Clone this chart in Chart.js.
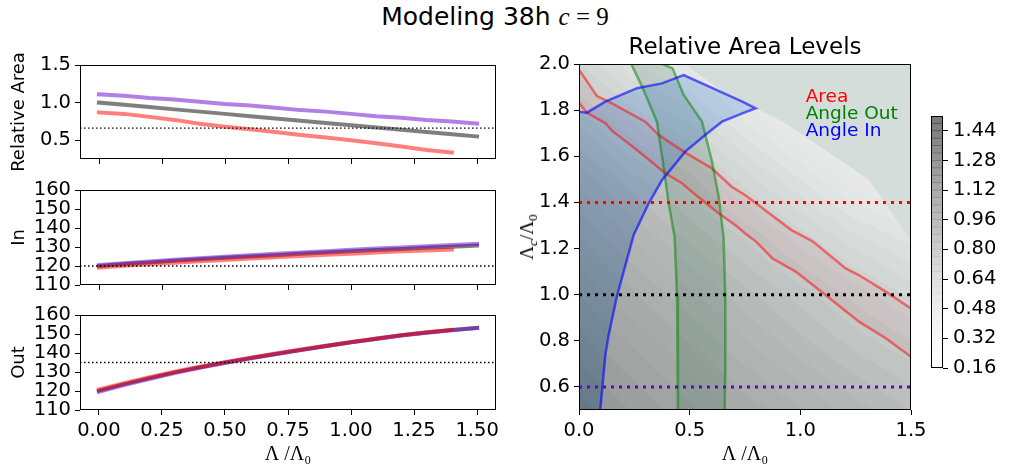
<!DOCTYPE html>
<html>
<head>
<meta charset="utf-8">
<script src="https://cdn.jsdelivr.net/npm/chart.js@4.4.1/dist/chart.umd.min.js"></script>
<style>
  body { margin: 0; background: #fff; }
  #fig { position: relative; width: 1014px; height: 471px; overflow: hidden; font-family: "DejaVu Sans"; }
  #fig canvas { position: absolute; }
  .txt { position: absolute; white-space: nowrap; color: #000; }
  .serif { font-family: "Liberation Serif"; }
  sub { font-size: 70%; vertical-align: -0.3em; line-height: 0; }
</style>
</head>
<body>
<div id="fig">
  <canvas id="cArea"></canvas>
  <canvas id="cIn"></canvas>
  <canvas id="cOut"></canvas>
  <canvas id="cMap"></canvas>
  <canvas id="cBar"></canvas>
  <div class="txt" style="left:0;width:990px;text-align:center;top:4px;font-size:25px;line-height:25px;">Modeling 38h <span class="serif"><i>c</i> = 9</span></div>
  <div class="txt" style="left:545px;width:400px;text-align:center;top:35px;font-size:23px;line-height:23px;">Relative Area Levels</div>
  <div class="txt serif" style="left:527px;top:237px;font-size:19px;transform:translate(-50%,-50%) rotate(-90deg);">Λ<sub><i>c</i></sub>/Λ<sub>0</sub></div>
</div>
<script>
// left panels: x = Lambda / Lambda0
const lam = [0, 0.1, 0.2, 0.3, 0.4, 0.5, 0.6, 0.7, 0.8, 0.9, 1.0, 1.1, 1.2, 1.3, 1.4, 1.5];
const lamRed = [0, 0.1, 0.2, 0.3, 0.4, 0.5, 0.6, 0.7, 0.8, 0.9, 1.0, 1.1, 1.2, 1.3, 1.4];

const areaGrey = [1.00, 0.97, 0.94, 0.91, 0.88, 0.85, 0.82, 0.79, 0.76, 0.73, 0.70, 0.67, 0.64, 0.61, 0.58, 0.55];
const areaPurple = [1.11, 1.09, 1.06, 1.04, 1.01, 0.98, 0.96, 0.93, 0.90, 0.88, 0.85, 0.82, 0.80, 0.77, 0.75, 0.72];
const areaRed = [0.87, 0.85, 0.81, 0.77, 0.72, 0.68, 0.645, 0.61, 0.57, 0.535, 0.50, 0.46, 0.415, 0.37, 0.335];

const inGrey = [120.0, 121.0, 121.9, 122.7, 123.5, 124.3, 125.0, 125.7, 126.4, 127.1, 127.7, 128.4, 129.0, 129.6, 130.1, 130.7];
const inPurple = [120.5, 121.5, 122.4, 123.3, 124.1, 124.9, 125.7, 126.4, 127.1, 127.8, 128.5, 129.2, 129.8, 130.4, 131.0, 131.6];
const inRed = [119.2, 120.1, 120.9, 121.7, 122.5, 123.2, 123.9, 124.6, 125.3, 125.9, 126.5, 127.1, 127.7, 128.2, 128.6];

const outGrey = [120.2, 123.6, 126.8, 129.8, 132.5, 135.0, 137.3, 139.5, 141.6, 143.7, 145.7, 147.5, 149.3, 150.8, 152.1, 153.2];
const outPurple = [119.6, 123.1, 126.3, 129.4, 132.2, 134.7, 137.1, 139.3, 141.5, 143.6, 145.6, 147.4, 149.2, 150.7, 152.0, 153.2];
const outRed = [120.8, 124.1, 127.2, 130.1, 132.8, 135.2, 137.5, 139.7, 141.8, 143.8, 145.8, 147.6, 149.4, 150.9, 152.2];

const refArea = 0.66, refIn = 120, refOut = 135;

const lamTicks = [0, 0.25, 0.5, 0.75, 1.0, 1.25, 1.5];
const areaTicks = [0.5, 1.0, 1.5];
const angleTicks = [110, 120, 130, 140, 150, 160];

// right panel: relative area field on (Lambda, Lambda_c)
const gridX = [0, 0.25, 0.5, 0.75, 1.0, 1.25, 1.5];
const gridY = [0.5, 0.75, 1.0, 1.25, 1.5, 1.75, 2.0];
const gridArea = [
  [1.14, 1.075, 1.01, 0.945, 0.885, 0.82, 0.76],
  [1.07, 1.005, 0.935, 0.86, 0.79, 0.72, 0.665],
  [1.00, 0.925, 0.85, 0.775, 0.70, 0.625, 0.55],
  [0.92, 0.835, 0.75, 0.675, 0.58, 0.49, 0.42],
  [0.83, 0.73, 0.655, 0.54, 0.44, 0.33, 0.28],
  [0.71, 0.595, 0.515, 0.40, 0.30, 0.22, 0.18],
  [0.56, 0.44, 0.37, 0.28, 0.20, 0.16, 0.16]
];
const noData = [[0.48, 2.0], [0.65, 1.88], [0.798, 1.808], [0.934, 1.743], [1.31, 1.497], [1.49, 1.25], [1.5, 1.235], [1.5, 2.0]];

const areaHi = [[0, 1.832], [0.036, 1.789], [0.119, 1.743], [0.149, 1.711], [0.262, 1.627], [0.39, 1.526], [0.465, 1.483], [0.518, 1.44], [0.631, 1.353], [0.706, 1.302], [0.75, 1.266], [0.80, 1.23], [0.873, 1.158], [0.979, 1.10], [1.114, 0.999], [1.265, 0.883], [1.386, 0.811], [1.5, 0.731]];
const areaLo = [[0, 1.975], [0.081, 1.861], [0.134, 1.837], [0.30, 1.75], [0.36, 1.692], [0.48, 1.616], [0.60, 1.548], [0.69, 1.468], [0.75, 1.432], [0.80, 1.396], [0.85, 1.36], [0.96, 1.28], [1.054, 1.232], [1.205, 1.114], [1.264, 1.085], [1.386, 1.013], [1.5, 0.94]];
const outLo = [[0.236, 2.0], [0.285, 1.902], [0.352, 1.75], [0.382, 1.555], [0.405, 1.396], [0.432, 1.25], [0.443, 0.996], [0.447, 0.679], [0.447, 0.5]];
const outHi = [[0.378, 2.0], [0.423, 1.981], [0.473, 1.866], [0.556, 1.75], [0.601, 1.577], [0.631, 1.425], [0.653, 1.25], [0.661, 0.996], [0.661, 0.679], [0.658, 0.5]];
const inEdge = [[0.096, 0.5], [0.119, 0.738], [0.134, 0.825], [0.172, 0.996], [0.247, 1.259], [0.315, 1.396], [0.375, 1.497], [0.40, 1.526], [0.48, 1.62], [0.57, 1.692], [0.646, 1.75], [0.738, 1.786], [0.798, 1.808], [0.738, 1.837], [0.473, 1.952], [0.375, 1.916], [0.262, 1.895], [0.119, 1.837], [0.036, 1.789], [0, 1.793]];
const inCorner = [[0, 0.5]];

const cutRows = [1.4, 1.0, 0.6];
const mapXTicks = [0, 0.5, 1.0, 1.5];
const mapYTicks = [0.6, 0.8, 1.0, 1.2, 1.4, 1.6, 1.8, 2.0];

const levels = [0.16, 0.20, 0.24, 0.28, 0.32, 0.36, 0.40, 0.44, 0.48, 0.52, 0.56, 0.60, 0.64, 0.68, 0.72, 0.76, 0.80, 0.84, 0.88, 0.92, 0.96, 1.00, 1.04, 1.08, 1.12, 1.16, 1.20, 1.24, 1.28, 1.32, 1.36, 1.40, 1.44, 1.48, 1.52];
const cbTicks = [0.16, 0.32, 0.48, 0.64, 0.80, 0.96, 1.12, 1.28, 1.44];

const mapLabels = ['Area', 'Angle Out', 'Angle In'];

// styles
const tickFont = { family: 'DejaVu Sans', size: 19.5 };
const labelFont = { family: 'DejaVu Sans', size: 18 };
const serifFont = { family: 'Liberation Serif', size: 20 };
const cGrey = 'rgba(0,0,0,0.5)', cPurple = 'rgba(102,0,204,0.5)', cRed = 'rgba(255,0,0,0.5)';
const greys = [255, 240, 217, 189, 150, 115, 82, 37, 0];
const fieldRamp = [[0.16, [240, 243, 242]], [0.4, [226, 230, 228]], [0.6, [204, 208, 206]], [0.8, [180, 184, 182]], [1.0, [162, 166, 164]], [1.2, [138, 142, 141]], [1.52, [112, 116, 115]]];

function place(id, l, t, w, h) {
  const c = document.getElementById(id);
  c.width = w; c.height = h;
  c.style.left = l + 'px'; c.style.top = t + 'px';
  return c;
}

const framePlugin = {
  id: 'frame',
  afterDraw(chart) {
    const { ctx, chartArea: a } = chart;
    ctx.save();
    ctx.strokeStyle = '#000';
    ctx.lineWidth = 1;
    ctx.strokeRect(Math.round(a.left) + 0.5, Math.round(a.top) + 0.5, Math.round(a.right - a.left) - 1, Math.round(a.bottom - a.top) - 1);
    ctx.restore();
  }
};

// tick marks only, for the panels whose x labels are shared with the bottom one
const xMarksPlugin = {
  id: 'xmarks',
  afterDraw(chart) {
    const { ctx, chartArea: a, scales } = chart;
    ctx.save();
    ctx.strokeStyle = '#000';
    ctx.lineWidth = 1;
    lamTicks.forEach(v => {
      const px = Math.round(scales.x.getPixelForValue(v)) + 0.5;
      ctx.beginPath();
      ctx.moveTo(px, a.bottom);
      ctx.lineTo(px, a.bottom + 5);
      ctx.stroke();
    });
    ctx.restore();
  }
};

function pts(xs, ys) { return ys.map((y, i) => ({ x: xs[i], y: y })); }
function pairs(arr) { return arr.map(p => ({ x: p[0], y: p[1] })); }

function line(data, color, width, extra) {
  return Object.assign({ data: data, showLine: true, borderColor: color, borderWidth: width, pointRadius: 0, fill: false, borderCapStyle: 'square' }, extra || {});
}

// y tick labels make chart.js reserve ~16px above and below the plot, so pads stay >= 18
function sidePanel(id, top, areaH, padTop, showX, yMin, yMax, yTicks, yFmt, yTitle, series, ref) {
  const xh = showX ? 61 : 18;
  const canvas = place(id, 0, top - padTop, 530, padTop + areaH + xh);
  const datasets = [
    line(pts(lam, series[0]), cGrey, 4),
    line(pts(lam, series[1]), cPurple, 4),
    line(pts(lamRed, series[2]), cRed, 4),
    line([{ x: -0.075, y: ref }, { x: 1.575, y: ref }], '#000', 1.4, { borderDash: [1.5, 2.5], borderCapStyle: 'butt' })
  ];
  datasets.forEach((d, i) => { d.order = datasets.length - i; });
  const xScale = {
    min: -0.075, max: 1.575,
    afterBuildTicks: s => { s.ticks = lamTicks.map(v => ({ value: v })); }
  };
  if (showX) {
    Object.assign(xScale, {
      afterFit: s => { s.height = xh; },
      ticks: { font: tickFont, color: '#000', padding: 4, maxRotation: 0, autoSkip: false, callback: v => v.toFixed(2) },
      grid: { drawOnChartArea: false, tickLength: 5, tickColor: '#000' },
      border: { display: false },
      title: { display: true, text: 'Λ /Λ₀', font: serifFont, color: '#000', padding: { top: 0, bottom: 4 } }
    });
  } else {
    xScale.display = false;
  }
  return new Chart(canvas, {
    type: 'scatter',
    data: { datasets: datasets },
    options: {
      responsive: false, animation: false,
      layout: { autoPadding: false, padding: { top: padTop, right: 34, left: 0, bottom: showX ? 0 : xh } },
      plugins: { legend: { display: false }, tooltip: { enabled: false } },
      scales: {
        x: xScale,
        y: {
          min: yMin, max: yMax,
          afterBuildTicks: s => { s.ticks = yTicks.map(v => ({ value: v })); },
          afterFit: s => { s.width = 80; },
          ticks: { font: tickFont, color: '#000', padding: 4, autoSkip: false, callback: yFmt },
          grid: { drawOnChartArea: false, tickLength: 5, tickColor: '#000' },
          border: { display: false },
          title: { display: true, text: yTitle, font: labelFont, color: '#000', padding: { top: 9, bottom: 0 } }
        }
      }
    },
    plugins: showX ? [framePlugin] : [framePlugin, xMarksPlugin]
  });
}

sidePanel('cArea', 65, 94, 26, false, 0.25, 1.5, areaTicks, v => v.toFixed(1), 'Relative Area', [areaGrey, areaPurple, areaRed], refArea);
sidePanel('cIn', 190, 95, 18, false, 110, 160, angleTicks, v => String(v), 'In', [inGrey, inPurple, inRed], refIn);
sidePanel('cOut', 315, 95, 18, true, 110, 160, angleTicks, v => String(v), 'Out', [outGrey, outPurple, outRed], refOut);

// field drawing
function sampleField(vx, vy) {
  let i = 0, j = 0;
  while (i < gridX.length - 2 && vx > gridX[i + 1]) i++;
  while (j < gridY.length - 2 && vy > gridY[j + 1]) j++;
  const fx = Math.min(1, Math.max(0, (vx - gridX[i]) / (gridX[i + 1] - gridX[i])));
  const fy = Math.min(1, Math.max(0, (vy - gridY[j]) / (gridY[j + 1] - gridY[j])));
  const a = gridArea[j][i], b = gridArea[j][i + 1], c = gridArea[j + 1][i], d = gridArea[j + 1][i + 1];
  return (a * (1 - fx) + b * fx) * (1 - fy) + (c * (1 - fx) + d * fx) * fy;
}
function rampColor(v) {
  if (v <= fieldRamp[0][0]) return fieldRamp[0][1];
  for (let k = 1; k < fieldRamp.length; k++) {
    if (v <= fieldRamp[k][0]) {
      const f = (v - fieldRamp[k - 1][0]) / (fieldRamp[k][0] - fieldRamp[k - 1][0]);
      return fieldRamp[k][1].map((c, n) => c * f + fieldRamp[k - 1][1][n] * (1 - f));
    }
  }
  return fieldRamp[fieldRamp.length - 1][1];
}
function bandOf(v) {
  const step = levels[1] - levels[0];
  return Math.max(0, Math.min(levels.length - 2, Math.floor((v - levels[0]) / step)));
}

const fieldPlugin = {
  id: 'field',
  beforeDatasetsDraw(chart) {
    const { ctx, chartArea: a, scales } = chart;
    const l = Math.round(a.left), t = Math.round(a.top);
    const w = Math.round(a.right) - l, h = Math.round(a.bottom) - t;
    const img = ctx.createImageData(w, h);
    for (let py = 0; py < h; py++) {
      const vy = scales.y.getValueForPixel(t + py + 0.5);
      for (let px = 0; px < w; px++) {
        const vx = scales.x.getValueForPixel(l + px + 0.5);
        const b = bandOf(sampleField(vx, vy));
        const c = rampColor((levels[b] + levels[b + 1]) / 2);
        const k = (py * w + px) * 4;
        img.data[k] = c[0]; img.data[k + 1] = c[1]; img.data[k + 2] = c[2]; img.data[k + 3] = 255;
      }
    }
    ctx.putImageData(img, l, t);
  }
};

const labelPlugin = {
  id: 'maplabels',
  afterDatasetsDraw(chart) {
    const { ctx, scales } = chart;
    const colors = ['#ff0000', '#008000', '#0000ff'];
    const rows = [1.834, 1.760, 1.688];
    ctx.save();
    ctx.font = '18.5px "DejaVu Sans"';
    ctx.textBaseline = 'alphabetic';
    mapLabels.forEach((s, i) => {
      ctx.fillStyle = colors[i];
      ctx.fillText(s, scales.x.getPixelForValue(1.024), scales.y.getPixelForValue(rows[i]));
    });
    ctx.restore();
  }
};

// angle-in region: darker towards the lower left corner
function inFill(context) {
  const chart = context.chart;
  if (!chart.chartArea) return 'rgba(40,95,175,0.3)';
  const sx = chart.scales.x, sy = chart.scales.y;
  const g = chart.ctx.createLinearGradient(sx.getPixelForValue(0.6), sy.getPixelForValue(1.95), sx.getPixelForValue(0), sy.getPixelForValue(0.5));
  g.addColorStop(0, 'rgba(60,130,230,0.24)');
  g.addColorStop(0.45, 'rgba(50,100,160,0.33)');
  g.addColorStop(1, 'rgba(40,80,120,0.42)');
  return g;
}

const mapCanvas = place('cMap', 520, 46, 420, 425);
const mapSets = [
  line(pairs(noData), 'rgba(0,0,0,0)', 1, { fill: 'shape', backgroundColor: '#d4ddd9' }),
  line(pairs(areaLo.concat(areaHi.slice().reverse())), 'rgba(0,0,0,0)', 1, { fill: 'shape', backgroundColor: 'rgba(200,0,60,0.05)' }),
  line(pairs(outLo.concat(outHi.slice().reverse())), 'rgba(0,0,0,0)', 1, { fill: 'shape', backgroundColor: 'rgba(20,90,60,0.15)' }),
  line(pairs(inEdge.concat(inCorner)), 'rgba(0,0,0,0)', 1, { fill: 'shape', backgroundColor: inFill }),
  line(pairs(areaLo), 'rgba(255,0,0,0.5)', 2.5),
  line(pairs(areaHi), 'rgba(255,0,0,0.5)', 2.5),
  line(pairs(outLo), 'rgba(0,128,0,0.5)', 2.5),
  line(pairs(outHi), 'rgba(0,128,0,0.5)', 2.5),
  line(pairs(inEdge), 'rgba(0,0,255,0.6)', 2.5),
  line([{ x: 0, y: cutRows[0] }, { x: 1.5, y: cutRows[0] }], '#ff0000', 3, { borderDash: [3, 5], borderCapStyle: 'butt' }),
  line([{ x: 0, y: cutRows[1] }, { x: 1.5, y: cutRows[1] }], '#000000', 3, { borderDash: [3, 5], borderCapStyle: 'butt' }),
  line([{ x: 0, y: cutRows[2] }, { x: 1.5, y: cutRows[2] }], '#6600cc', 3, { borderDash: [3, 5], borderCapStyle: 'butt' })
];
mapSets.forEach((d, i) => { d.order = mapSets.length - i; });

new Chart(mapCanvas, {
  type: 'scatter',
  data: { datasets: mapSets },
  options: {
    responsive: false, animation: false,
    layout: { autoPadding: false, padding: { top: 18, right: 29, left: 0, bottom: 0 } },
    plugins: { legend: { display: false }, tooltip: { enabled: false } },
    scales: {
      x: {
        min: 0, max: 1.5,
        afterBuildTicks: s => { s.ticks = mapXTicks.map(v => ({ value: v })); },
        afterFit: s => { s.height = 61; },
        ticks: { font: tickFont, color: '#000', padding: 4, maxRotation: 0, autoSkip: false, callback: v => v.toFixed(1) },
        grid: { drawOnChartArea: false, tickLength: 5, tickColor: '#000' },
        border: { display: false },
        title: { display: true, text: 'Λ /Λ₀', font: serifFont, color: '#000', padding: { top: 0, bottom: 4 } }
      },
      y: {
        min: 0.5, max: 2.0,
        afterBuildTicks: s => { s.ticks = mapYTicks.map(v => ({ value: v })); },
        afterFit: s => { s.width = 59; },
        ticks: { font: tickFont, color: '#000', padding: 4, autoSkip: false, callback: v => v.toFixed(1) },
        grid: { drawOnChartArea: false, tickLength: 5, tickColor: '#000' },
        border: { display: false }
      }
    }
  },
  plugins: [fieldPlugin, labelPlugin, framePlugin]
});

// colorbar
function cbColor(i) {
  const t = i / (levels.length - 2) * (greys.length - 1);
  const k = Math.min(greys.length - 2, Math.floor(t));
  const g = greys[k] + (greys[k + 1] - greys[k]) * (t - k);
  return 'rgba(' + Math.round(g) + ',' + Math.round(g) + ',' + Math.round(g) + ',0.52)';
}
const barCanvas = place('cBar', 925, 98, 89, 288);
new Chart(barCanvas, {
  type: 'bar',
  data: {
    labels: ['cb'],
    datasets: levels.slice(0, -1).map((lo, i) => ({
      data: [[lo, levels[i + 1]]], backgroundColor: cbColor(i), borderWidth: 0,
      grouped: false, barPercentage: 1, categoryPercentage: 1
    }))
  },
  options: {
    responsive: false, animation: false,
    layout: { autoPadding: false, padding: { top: 18, left: 6, right: 0, bottom: 18 } },
    plugins: { legend: { display: false }, tooltip: { enabled: false } },
    scales: {
      x: { display: false },
      y: {
        position: 'right', min: 0.16, max: 1.52,
        afterBuildTicks: s => { s.ticks = cbTicks.map(v => ({ value: v })); },
        afterFit: s => { s.width = 71; },
        ticks: { font: tickFont, color: '#000', padding: 5, autoSkip: false, callback: v => v.toFixed(2) },
        grid: { drawOnChartArea: false, tickLength: 5, tickColor: '#000' },
        border: { display: false }
      }
    }
  },
  plugins: [framePlugin]
});
</script>
</body>
</html>
